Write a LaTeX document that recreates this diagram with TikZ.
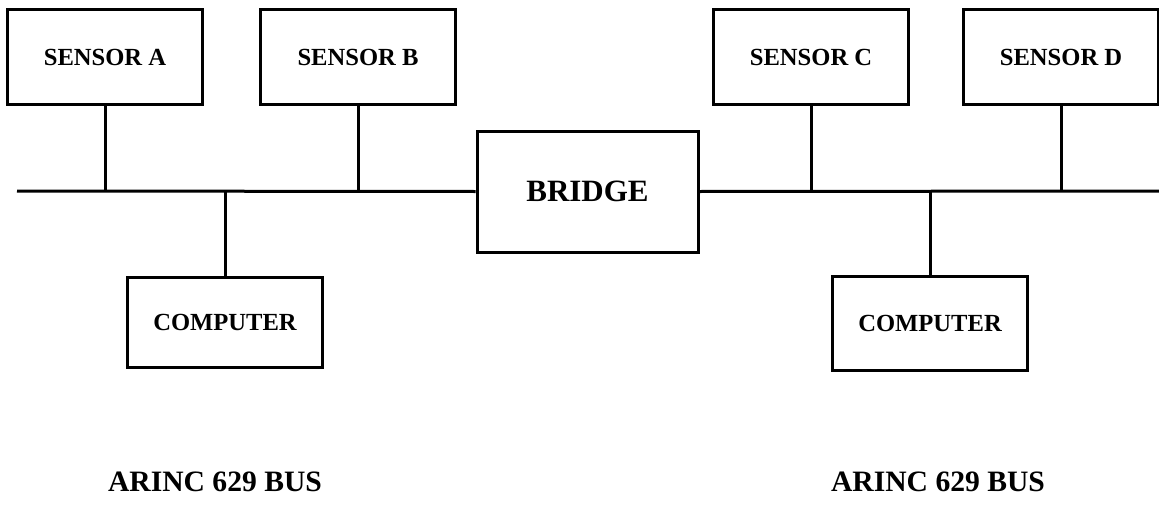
\documentclass[tikz,border=0pt]{standalone}
\usepackage{fontspec}
\setmainfont{Liberation Serif}
\usetikzlibrary{positioning}

\begin{document}
\begin{tikzpicture}[x=0.5pt,y=-0.5pt,line width=1.5pt,
    unitbox/.style={draw,inner sep=0pt,minimum width=97.5pt,minimum height=47pt,font=\fontsize{12.3}{14}\selectfont\bfseries},
    buslabel/.style={font=\fontsize{14.8}{17}\selectfont\bfseries}]
                \useasboundingbox (0,0) rectangle (1159,508);
                \node[unitbox] (sa) at (105,57) {SENSOR A};
                \node[unitbox] (sb) at (358,57) {SENSOR B};
                \node[unitbox] (sc) at (811,57) {SENSOR C};
                \node[unitbox] (sd) at (1061,57) {SENSOR D};
                \node[unitbox,minimum width=110.5pt,minimum height=60.5pt,font=\fontsize{15.5}{18}\selectfont\bfseries] (br) at (587.5,191.5) {BRIDGE};
                \node[unitbox,minimum height=45pt,font=\fontsize{12.3}{14}\selectfont\bfseries] (cl) at (225,322) {COMPUTER};
                \node[unitbox,minimum height=47pt,font=\fontsize{12.3}{14}\selectfont\bfseries] (cr) at (930,323) {COMPUTER};
                \coordinate (busl) at (17,191);
                \coordinate (busr) at (1159,191);
                \draw (busl)--(br.west);
                \draw (br.east)--(busr);
                \draw (sa.south)--(sa.south |- busl);
                \draw (sb.south)--(sb.south |- busl);
                \draw (sc.south)--(sc.south |- busl);
                \draw (sd.south)--(sd.south |- busl);
                \draw (cl.north)--(cl.north |- busl);
                \draw (cr.north)--(cr.north |- busl);
                \node[buslabel] (lbll) at (215,482) {ARINC 629 BUS};
                \node[buslabel] (lblr) at (938,482) {ARINC 629 BUS};
            \end{tikzpicture}
\end{document}
